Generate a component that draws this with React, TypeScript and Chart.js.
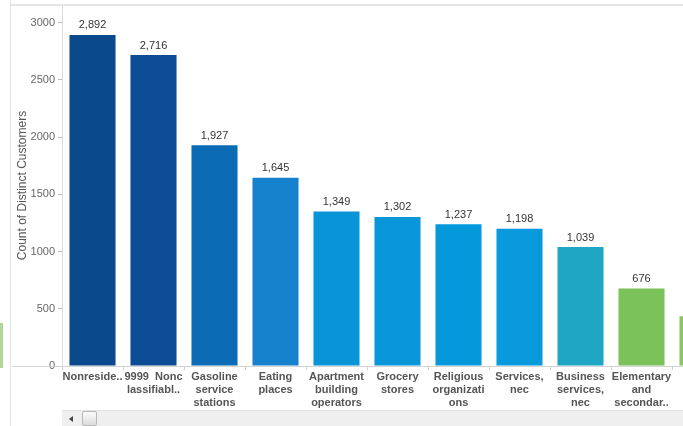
import React, { useEffect, useRef } from "react";
import { Chart, registerables } from "chart.js";

Chart.register(...registerables);

const categories: (string | string[])[] = [
  "Nonreside..",
  ["9999  Nonc", "lassifiabl.."],
  ["Gasoline", "service", "stations"],
  ["Eating", "places"],
  ["Apartment", "building", "operators"],
  ["Grocery", "stores"],
  ["Religious", "organizati", "ons"],
  ["Services,", "nec"],
  ["Business", "services,", "nec"],
  ["Elementary", "and", "secondar.."],
  "",
];

const customerCounts: number[] = [2892, 2716, 1927, 1645, 1349, 1302, 1237, 1198, 1039, 676, 435];

const barColors: string[] = [
  "#0a498c",
  "#0c4c94",
  "#0b6cb5",
  "#1580cc",
  "#0994d8",
  "#0996d9",
  "#0598db",
  "#099ade",
  "#1ea6c4",
  "#7bc25a",
  "#8cc660",
];

const yTicks: number[] = [0, 500, 1000, 1500, 2000, 2500, 3000];
const yMax = 3153;
const yTitle = "Count of Distinct Customers";

const FONT = "'Liberation Sans', Arial, sans-serif";

const valueLabels = {
  id: "valueLabels",
  afterDatasetsDraw(chart: any) {
    const ctx = chart.ctx;
    const meta = chart.getDatasetMeta(0);
    ctx.save();
    ctx.font = `11px ${FONT}`;
    ctx.fillStyle = "#333333";
    ctx.textAlign = "center";
    ctx.textBaseline = "bottom";
    meta.data.forEach((bar: any, i: number) => {
      const v = chart.data.datasets[0].data[i] as number;
      ctx.fillText(v.toLocaleString("en-US"), bar.x, bar.y - 4);
    });
    ctx.restore();
  },
};

export default function App() {
  const ref = useRef<HTMLCanvasElement | null>(null);

  useEffect(() => {
    document.body.style.margin = "0";
    if (!ref.current) return;
    const chart = new Chart(ref.current, {
      type: "bar",
      data: {
        labels: categories,
        datasets: [
          {
            data: customerCounts,
            backgroundColor: barColors,
            categoryPercentage: 1,
            barPercentage: 0.755,
          },
        ],
      },
      options: {
        responsive: false,
        animation: false,
        layout: { padding: { top: 5, left: 0, right: 0, bottom: 0 } },
        plugins: {
          legend: { display: false },
          tooltip: { enabled: false },
        },
        scales: {
          x: {
            grid: {
              display: true,
              drawOnChartArea: false,
              drawTicks: true,
              tickLength: 4,
              color: "#cfcfcf",
            },
            border: { display: true, color: "#d2d2d2" },
            ticks: {
              autoSkip: false,
              maxRotation: 0,
              minRotation: 0,
              padding: 1,
              color: "#555555",
              font: { family: FONT, size: 11, weight: "bold", lineHeight: 1.15 },
            },
            afterFit(scale: any) {
              scale.height = 60;
              scale.paddingLeft = 0;
              scale.paddingRight = 0;
            },
          },
          y: {
            min: 0,
            max: yMax,
            afterBuildTicks(scale: any) {
              scale.ticks = yTicks.map((v) => ({ value: v }));
            },
            grid: {
              display: true,
              drawOnChartArea: false,
              drawTicks: true,
              tickLength: 4,
              color: "#bdbdbd",
            },
            border: { display: true, color: "#dcdcdc" },
            ticks: {
              includeBounds: false,
              stepSize: 500,
              padding: 3,
              color: "#666666",
              font: { family: FONT, size: 11 },
              callback: (v: any) => String(v),
            },
            title: {
              display: true,
              text: yTitle,
              color: "#555555",
              font: { family: FONT, size: 12 },
              padding: { top: 15, bottom: 0 },
            },
            afterFit(scale: any) {
              scale.width = 62;
              scale.paddingTop = 0;
              scale.paddingBottom = 0;
            },
          },
        },
      },
      plugins: [valueLabels],
    });
    return () => chart.destroy();
  }, []);

  return (
    <div
      style={{
        position: "fixed",
        left: 0,
        top: 0,
        width: 683,
        height: 426,
        overflow: "hidden",
        background: "#ffffff",
      }}
    >
      <canvas ref={ref} width={733} height={426} style={{ position: "absolute", left: 0, top: 0 }} />
      {/* top frame line */}
      <div style={{ position: "absolute", left: 10, top: 4, width: 673, height: 2, background: "#e6e6e6" }} />
      {/* left frame line */}
      <div style={{ position: "absolute", left: 10, top: 0, width: 1, height: 426, background: "#dde3ea" }} />
      {/* x axis extension to the left */}
      <div style={{ position: "absolute", left: 12, top: 366, width: 50, height: 1, background: "#d2d2d2" }} />
      {/* neighbouring green sliver */}
      <div style={{ position: "absolute", left: 0, top: 323, width: 3, height: 45, background: "#b3d597" }} />
      {/* scrollbar */}
      <div
        style={{
          position: "absolute",
          left: 62,
          top: 410,
          width: 621,
          height: 16,
          background: "#efefef",
          borderTop: "1px solid #e3e3e3",
          boxSizing: "border-box",
        }}
      />
      <div
        style={{
          position: "absolute",
          left: 69,
          top: 416,
          width: 0,
          height: 0,
          borderTop: "3px solid transparent",
          borderBottom: "3px solid transparent",
          borderRight: "4px solid #444",
        }}
      />
      <div
        style={{
          position: "absolute",
          left: 82,
          top: 411,
          width: 15,
          height: 15,
          boxSizing: "border-box",
          background: "linear-gradient(#fbfbfb, #dcdcdc)",
          border: "1px solid #b8b8b8",
          borderRadius: 2,
        }}
      />
    </div>
  );
}
